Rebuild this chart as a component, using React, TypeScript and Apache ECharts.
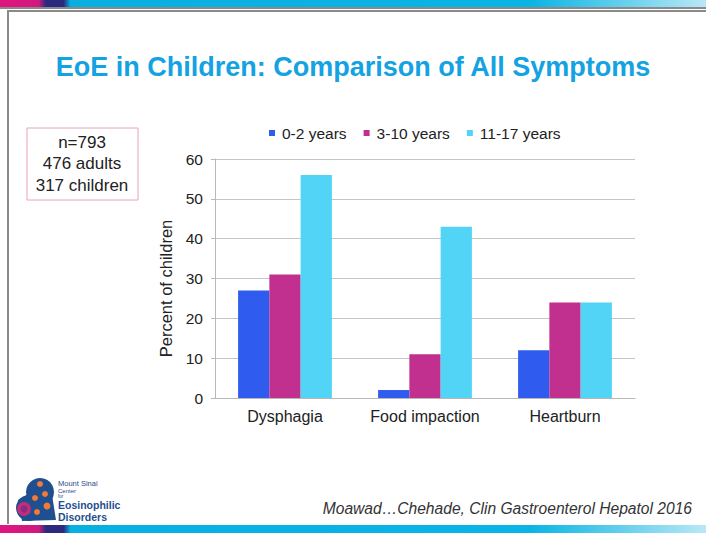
import React, { useEffect, useRef } from "react";
import * as echarts from "echarts";

const categories = ["Dysphagia", "Food impaction", "Heartburn"];
const seriesNames = ["0-2 years", "3-10 years", "11-17 years"];
const age0to2 = [27, 2, 12];
const age3to10 = [31, 11, 24];
const age11to17 = [56, 43, 24];
const seriesColors = ["#2f5cef", "#c1308e", "#52d4f7"];
const boxLines = ["n=793", "476 adults", "317 children"];
const title = "EoE in Children: Comparison of All Symptoms";
const citation = "Moawad\u2026Chehade, Clin Gastroenterol Hepatol 2016";

const FF = "Liberation Sans, Arial, sans-serif";

export default function App() {
  const ref = useRef<HTMLDivElement>(null);
  useEffect(() => {
    document.body.style.margin = "0";
    const chart = echarts.init(ref.current!, undefined, { renderer: "svg" });
    const mkStrip = () =>
      new echarts.graphic.LinearGradient(0, 0, 1, 0, [
        { offset: 0, color: "#e0167e" },
        { offset: 0.055, color: "#d0197f" },
        { offset: 0.065, color: "#2b2a7e" },
        { offset: 0.09, color: "#2b2a7e" },
        { offset: 0.1, color: "#08b0e2" },
        { offset: 0.75, color: "#0ab4e4" },
        { offset: 1, color: "#b8e8f6" },
      ]);
    const data = [age0to2, age3to10, age11to17];
    chart.setOption({
      animation: false,
      backgroundColor: "#ffffff",
      textStyle: { fontFamily: FF },
      title: {
        text: title,
        left: "center",
        top: 48,
        textStyle: { color: "#13a2e2", fontSize: 27, fontWeight: "bold", fontFamily: FF },
      },
      legend: {
        data: seriesNames,
        top: 120,
        left: 264,
        icon: "rect",
        itemWidth: 6,
        itemHeight: 6,
        itemGap: 17,
        textStyle: { fontSize: 15.5, color: "#222", padding: [0, 0, 0, 2] },
      },
      grid: { left: 215, right: 71, top: 159, bottom: 135 },
      xAxis: {
        type: "category",
        data: categories,
        axisLine: { lineStyle: { color: "#b8b8b8" } },
        axisTick: { show: false },
        axisLabel: { fontSize: 16, color: "#222", margin: 10, interval: 0 },
      },
      yAxis: {
        type: "value",
        min: 0,
        max: 60,
        interval: 10,
        name: "Percent of children",
        nameLocation: "middle",
        nameRotate: 90,
        nameGap: 40,
        nameTextStyle: { fontSize: 16.5, color: "#222", padding: [0, 20, 0, 0] },
        axisLine: { show: true, lineStyle: { color: "#b8b8b8" } },
        axisTick: { show: true, length: 4, lineStyle: { color: "#b8b8b8" } },
        axisLabel: { fontSize: 15.5, color: "#222", margin: 12 },
        splitLine: { lineStyle: { color: "#c4c4c4" } },
      },
      series: seriesNames.map((n, i) => ({
        name: n,
        type: "bar",
        data: data[i],
        barGap: "0%",
        barCategoryGap: "33%",
        itemStyle: { color: seriesColors[i] },
      })),
      graphic: [
        { type: "rect", shape: { x: 0, y: 0, width: 706, height: 7 }, style: { fill: mkStrip() }, silent: true },
        { type: "line", shape: { x1: 0, y1: 8, x2: 706, y2: 8 }, style: { stroke: "#8a8a8a", lineWidth: 2 }, silent: true },
        { type: "line", shape: { x1: 8, y1: 11, x2: 706, y2: 11 }, style: { stroke: "#8a8a8a", lineWidth: 2 }, silent: true },
        { type: "line", shape: { x1: 8, y1: 10, x2: 8, y2: 524 }, style: { stroke: "#8a8a8a", lineWidth: 2 }, silent: true },
        { type: "rect", shape: { x: 0, y: 525, width: 706, height: 8 }, style: { fill: mkStrip() }, silent: true },
        {
          type: "rect",
          shape: { x: 27, y: 128, width: 111, height: 72 },
          style: { fill: "#ffffff", stroke: "#e8a3b8", lineWidth: 1 },
          silent: true,
        },
        ...boxLines.map((t, i) => ({
          type: "text",
          x: 82,
          y: 142 + i * 21.5,
          style: { text: t, fill: "#222", fontSize: 17, align: "center", verticalAlign: "middle", fontFamily: FF },
          silent: true,
        })),
        {
          type: "text",
          x: 692,
          y: 508,
          style: {
            text: citation,
            fill: "#333",
            fontSize: 15.6,
            fontStyle: "italic",
            align: "right",
            verticalAlign: "middle",
            fontFamily: FF,
          },
          silent: true,
        },
        // logo
        {
          type: "group",
          silent: true,
          children: [
            { type: "circle", shape: { cx: 40, cy: 492, r: 14 }, style: { fill: "#1f4f8f" } },
            { type: "circle", shape: { cx: 29, cy: 508, r: 13 }, style: { fill: "#1f4f8f" } },
            { type: "polygon", shape: { points: [[18, 500], [50, 482], [56, 520], [22, 521]] }, style: { fill: "#1f4f8f" } },
            { type: "circle", shape: { cx: 24, cy: 509, r: 7 }, style: { fill: "#c22d7a" } },
            { type: "circle", shape: { cx: 24, cy: 509, r: 3.5 }, style: { fill: "#8a2a80" } },
            { type: "circle", shape: { cx: 40, cy: 484, r: 3 }, style: { fill: "#f07a3a" } },
            { type: "circle", shape: { cx: 45, cy: 494, r: 3 }, style: { fill: "#f07a3a" } },
            { type: "circle", shape: { cx: 35, cy: 498, r: 3 }, style: { fill: "#f07a3a" } },
            { type: "circle", shape: { cx: 47, cy: 506, r: 3.5 }, style: { fill: "#f07a3a" } },
            { type: "circle", shape: { cx: 37, cy: 512, r: 3 }, style: { fill: "#f07a3a" } },
            { type: "text", x: 58, y: 479, style: { text: "Mount Sinai", fill: "#2a4a8a", fontSize: 7.5, fontFamily: FF } },
            { type: "text", x: 58, y: 487.5, style: { text: "Center", fill: "#2a4a8a", fontSize: 6, fontFamily: FF } },
            { type: "text", x: 58, y: 494, style: { text: "for", fill: "#2a4a8a", fontSize: 4.5, fontFamily: FF } },
            { type: "text", x: 58, y: 499.5, style: { text: "Eosinophilic", fill: "#1f4f8f", fontSize: 10.5, fontWeight: "bold", fontFamily: FF } },
            { type: "text", x: 58, y: 511, style: { text: "Disorders", fill: "#1f4f8f", fontSize: 10.5, fontWeight: "bold", fontFamily: FF } },
          ],
        },
      ],
    });
    return () => chart.dispose();
  }, []);
  return <div ref={ref} style={{ width: 706, height: 533 }} />;
}
